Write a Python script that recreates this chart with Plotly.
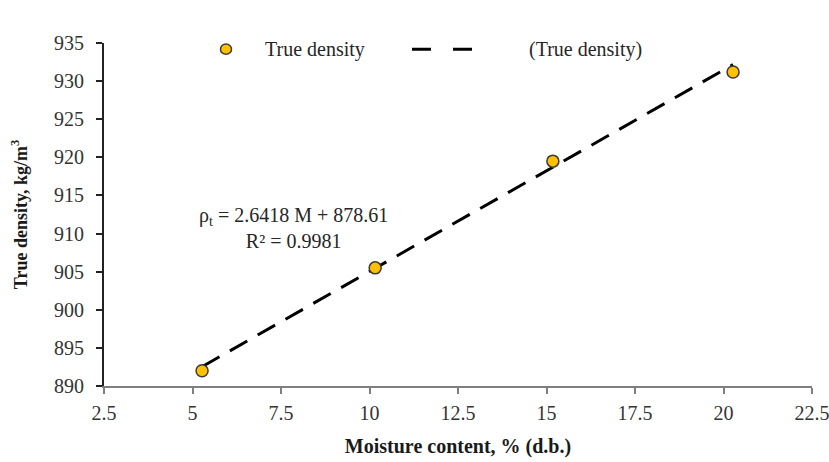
import numpy as np
import plotly.graph_objects as go

# Measured true density at each moisture level
moisture = [5.27, 10.16, 15.18, 20.27]
true_density = [892.0, 905.5, 919.5, 931.2]

# Linear fit reported on the chart
slope = 2.6418
intercept = 878.61
r_squared = 0.9981

x_ticks = [2.5, 5, 7.5, 10, 12.5, 15, 17.5, 20, 22.5]
y_ticks = [890, 895, 900, 905, 910, 915, 920, 925, 930, 935]

fit_x = np.array([moisture[0], moisture[-1]])
fit_y = slope * fit_x + intercept

serif = "Liberation Serif, Times New Roman, serif"
marker_fill = "#FFC000"
marker_edge = "#3a3a3a"
text_col = "#262626"

fig = go.Figure()
fig.add_trace(go.Scatter(
    x=fit_x, y=fit_y, mode="lines", name="(True density)",
    line=dict(color="black", width=3, dash="20px,12px"), showlegend=False,
))
fig.add_trace(go.Scatter(
    x=moisture, y=true_density, mode="markers", name="True density",
    marker=dict(color=marker_fill, size=12, line=dict(color=marker_edge, width=1.5)),
    showlegend=False,
))

fig.add_annotation(
    x=7.85, y=910.7, xref="x", yref="y", showarrow=False,
    text=f"ρ<sub>t</sub> = {slope} M + {intercept}<br>R² = {r_squared}",
    font=dict(family=serif, size=20, color=text_col), align="center",
)

# Key row across the top of the plot (paper coordinates)
key_y = 0.982
fig.add_shape(type="circle", xref="paper", yref="paper",
              x0=0.1723 - 0.0078, x1=0.1723 + 0.0078, y0=key_y - 0.015, y1=key_y + 0.015,
              fillcolor=marker_fill, line=dict(color=marker_edge, width=1.5))
fig.add_annotation(x=0.224, y=key_y, xref="paper", yref="paper", showarrow=False,
                   xanchor="left", yanchor="middle", text="True density",
                   font=dict(family=serif, size=20, color=text_col))
fig.add_shape(type="line", xref="paper", yref="paper",
              x0=0.435, x1=0.525, y0=key_y, y1=key_y,
              line=dict(color="black", width=3, dash="19px,22px"))
fig.add_annotation(x=0.597, y=key_y, xref="paper", yref="paper", showarrow=False,
                   xanchor="left", yanchor="middle", text="(True density)",
                   font=dict(family=serif, size=20, color=text_col))

fig.update_layout(
    width=829, height=462,
    margin=dict(l=104, r=17, t=43, b=76, autoexpand=False),
    plot_bgcolor="white", paper_bgcolor="white",
    font=dict(family=serif, size=20, color="#333333"),
    showlegend=False,
    xaxis=dict(
        range=[2.5, 22.5], tickvals=x_ticks, ticktext=[str(v) for v in x_ticks],
        showgrid=False, zeroline=False, showline=True, linecolor="#7f7f7f", linewidth=2,
        ticks="outside", ticklen=6, tickcolor="#7f7f7f", tickwidth=1.5, automargin=False,
        ticklabelstandoff=2, ticklabeloverflow="allow",
        title=dict(text="<b>Moisture content, % (d.b.)</b>", font=dict(family=serif, size=20, color="#1a1a1a"), standoff=16),
        tickfont=dict(family=serif, size=20, color="#333333"),
    ),
    yaxis=dict(
        range=[890, 935], tickvals=y_ticks,
        showgrid=False, zeroline=False, showline=True, linecolor="#222222", linewidth=2,
        ticks="outside", ticklen=6, tickcolor="#222222", tickwidth=1.5, automargin=False,
        ticklabelstandoff=8, ticklabeloverflow="allow",
        title=dict(text="<b>True density, kg/m<sup>3</sup></b>", font=dict(family=serif, size=18, color="#1a1a1a"), standoff=22),
        tickfont=dict(family=serif, size=20, color="#333333"),
    ),
)

fig.write_html("out.html")
